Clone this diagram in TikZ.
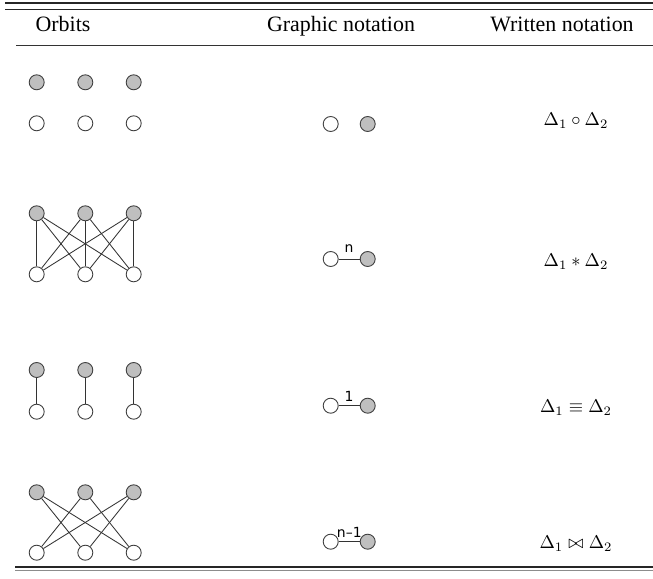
\documentclass[tikz,border=0pt]{standalone}
\usepackage[no-math]{fontspec}
\setmainfont{Liberation Serif}
\newfontfamily\lblfont{DejaVu Sans}
\begin{document}
\begin{tikzpicture}[x=1bp,y=-1bp,
  vtx/.style={circle,draw=black!75,line width=0.9bp,minimum size=15bp,inner sep=0pt},
  grayv/.style={vtx,fill=black!25},
  whitev/.style={vtx,fill=white},
  edge/.style={draw=black!80,line width=0.85bp},
  rule/.style={draw=black!85,line width=1.1bp},
  head/.style={font=\fontsize{22}{26}\selectfont,anchor=base,inner sep=0pt},
  formula/.style={scale=1.85,inner sep=0pt},
  lbl/.style={font=\lblfont\fontsize{14}{16}\selectfont,inner sep=0pt}
]
\useasboundingbox (0,0) rectangle (653,579);

% table rules
\draw[rule] (5,3) -- (653,3);
\draw[rule] (5,9.5) -- (653,9.5);
\draw[draw=black!80,line width=0.9bp] (16,45) -- (653,45);
\draw[rule] (15,567) -- (653,567);
\draw[draw=black!45,line width=1bp] (15,570.5) -- (653,570.5);

% column heads
\node[head] (h1) at (63,31.5) {Orbits};
\node[head] (h2) at (341,31.5) {Graphic notation};
\node[head] (h3) at (562,31.5) {Written notation};

% orbit vertices: top row grey, bottom row white
\foreach \r/\yt/\yb in {1/82.3/123.3, 2/213.3/274.3, 3/370/411.7, 4/492.3/552.7}{
  \foreach \c/\x in {1/36.7, 2/85.3, 3/133.7}{
    \node[grayv]  (g\r\c) at (\x,\yt) {};
    \node[whitev] (w\r\c) at (\x,\yb) {};
  }
}

% complete bipartite
\foreach \i in {1,2,3}{
  \foreach \j in {1,2,3}{
    \draw[edge] (g2\i) -- (w2\j);
  }
}
% matching
\foreach \i in {1,2,3}{
  \draw[edge] (g3\i) -- (w3\i);
}
% all but the matching
\foreach \i/\j in {1/2,1/3,2/1,2/3,3/1,3/2}{
  \draw[edge] (g4\i) -- (w4\j);
}

% graphic notation
\foreach \r/\y in {1/124, 2/259, 3/405.7, 4/541.7}{
  \node[whitev] (a\r) at (330.7,\y) {};
  \node[grayv]  (b\r) at (367.7,\y) {};
}
\draw[edge] (a2) -- (b2);
\draw[edge] (a3) -- (b3);
\draw[edge] (a4) -- (b4);
\node[lbl] (l2) at (349,249) {n};
\node[lbl] (l3) at (349,396) {1};
\node[lbl] (l4) at (349.3,532) {n–1};

% written notation
\node[formula] (f1) at (576,121) {$\Delta_1\circ\Delta_2$};
\node[formula] (f2) at (576,262) {$\Delta_1\ast\Delta_2$};
\node[formula] (f3) at (576,408) {$\Delta_1\equiv\Delta_2$};
\node[formula] (f4) at (576,544) {$\Delta_1\bowtie\Delta_2$};
\end{tikzpicture}
\end{document}
